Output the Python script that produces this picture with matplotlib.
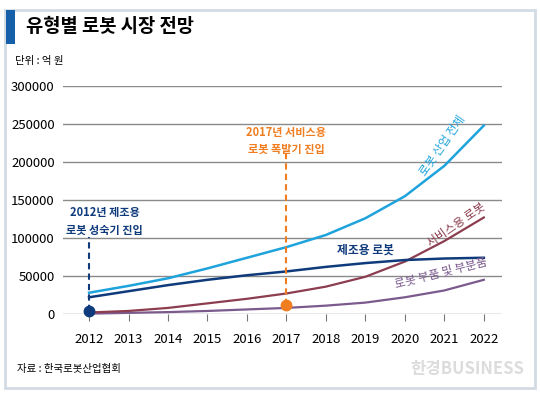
import matplotlib.pyplot as plt

plt.rcParams['font.family'] = ['Noto Sans CJK KR', 'DejaVu Sans']

years = [2012, 2013, 2014, 2015, 2016, 2017, 2018, 2019, 2020, 2021, 2022]
total = [28000, 37000, 47000, 60000, 74000, 88000, 104000, 126000, 155000, 195000, 248000]
manufacturing = [22000, 30000, 38000, 45000, 51000, 56000, 62000, 67000, 71000, 73000, 74000]
service = [2000, 4000, 8000, 14000, 20000, 27000, 36000, 49000, 69000, 96000, 127000]
parts = [500, 1500, 2500, 4000, 6000, 8000, 11000, 15000, 22000, 31000, 45000]
yticks = [0, 50000, 100000, 150000, 200000, 250000, 300000]

c_total = '#1ea3dc'
c_manu = '#0f3b7c'
c_serv = '#8c3d4f'
c_parts = '#7b5a8e'
c_orange = '#f07d1f'

fig = plt.figure(figsize=(5.4, 3.93), dpi=100)

# frame + title bar
fig.patches.append(plt.Rectangle((5/540, 5/393), 530/540, 378/393, transform=fig.transFigure,
                                 fill=False, edgecolor='#d3dbe2', lw=2))
fig.patches.append(plt.Rectangle((6/540, (393-44)/393), 9/540, 34/393, transform=fig.transFigure,
                                 color='#1560a8', lw=0))
fig.text(26/540, (393-27)/393, '유형별 로봇 시장 전망', fontsize=13.5, fontweight='bold', va='center')
fig.text(15/540, (393-61)/393, '단위 : 억 원', fontsize=7.5, va='center')
fig.text(17/540, (393-369)/393, '자료 : 한국로봇산업협회', fontsize=7.5, va='center')
fig.text(524/540, (393-369)/393, '한경BUSINESS', fontsize=12, va='center', ha='right',
         color='#dcdcdc', fontweight='bold')

ax = fig.add_axes([63/540, (393-314)/393, 439/540, 228/393])
ax.set_xlim(2011.34, 2022.46)
ax.set_ylim(0, 300000)
for s in ax.spines.values():
    s.set_visible(False)
ax.set_yticks(yticks)
ax.set_yticklabels([str(v) for v in yticks])
ax.set_xticks(years)
ax.set_xticklabels([str(y) for y in years])
ax.tick_params(axis='y', length=0, labelsize=9.5, pad=6)
ax.tick_params(axis='x', length=5, color='#777777', labelsize=9.5, pad=9)
ax.grid(axis='y', color='#8a8a8a', lw=1)
ax.set_axisbelow(True)

ax.plot(years, parts, color=c_parts, lw=1.6, clip_on=False)
ax.plot(years, service, color=c_serv, lw=1.6, clip_on=False)
ax.plot(years, manufacturing, color=c_manu, lw=1.8, clip_on=False)
ax.plot(years, total, color=c_total, lw=1.8, clip_on=False)

# 2012 annotation
ax.plot([2012, 2012], [4000, 101000], color=c_manu, lw=1.5, ls=(0, (3, 2)))
ax.plot(2012, 4000, 'o', color=c_manu, ms=7.5, clip_on=False, zorder=5)
ax.text(2012.4, 122000, '2012년 제조용\n로봇 성숙기 진입', color=c_manu, fontsize=8,
        fontweight='bold', ha='center', va='center', linespacing=1.45)

# 2017 annotation
ax.plot([2017, 2017], [12000, 212000], color=c_orange, lw=1.5, ls=(0, (3, 2)))
ax.plot(2017, 12000, 'o', color=c_orange, ms=7.5, zorder=5)
ax.text(2017, 228000, '2017년 서비스용\n로봇 폭발기 진입', color=c_orange, fontsize=8,
        fontweight='bold', ha='center', va='center', linespacing=1.4)

# line labels
ax.text(2020.95, 222000, '로봇 산업 전체', color=c_total, fontsize=8.5, rotation=55,
        ha='center', va='center')
ax.text(2019.0, 84000, '제조용 로봇', color=c_manu, fontsize=8.5, fontweight='bold',
        ha='center', va='center')
ax.text(2021.3, 118000, '서비스용 로봇', color=c_serv, fontsize=8.5, rotation=35,
        ha='center', va='center')
ax.text(2020.9, 54000, '로봇 부품 및 부분품', color=c_parts, fontsize=8.5, rotation=14,
        ha='center', va='center')

fig.savefig('out.png', dpi=100)
